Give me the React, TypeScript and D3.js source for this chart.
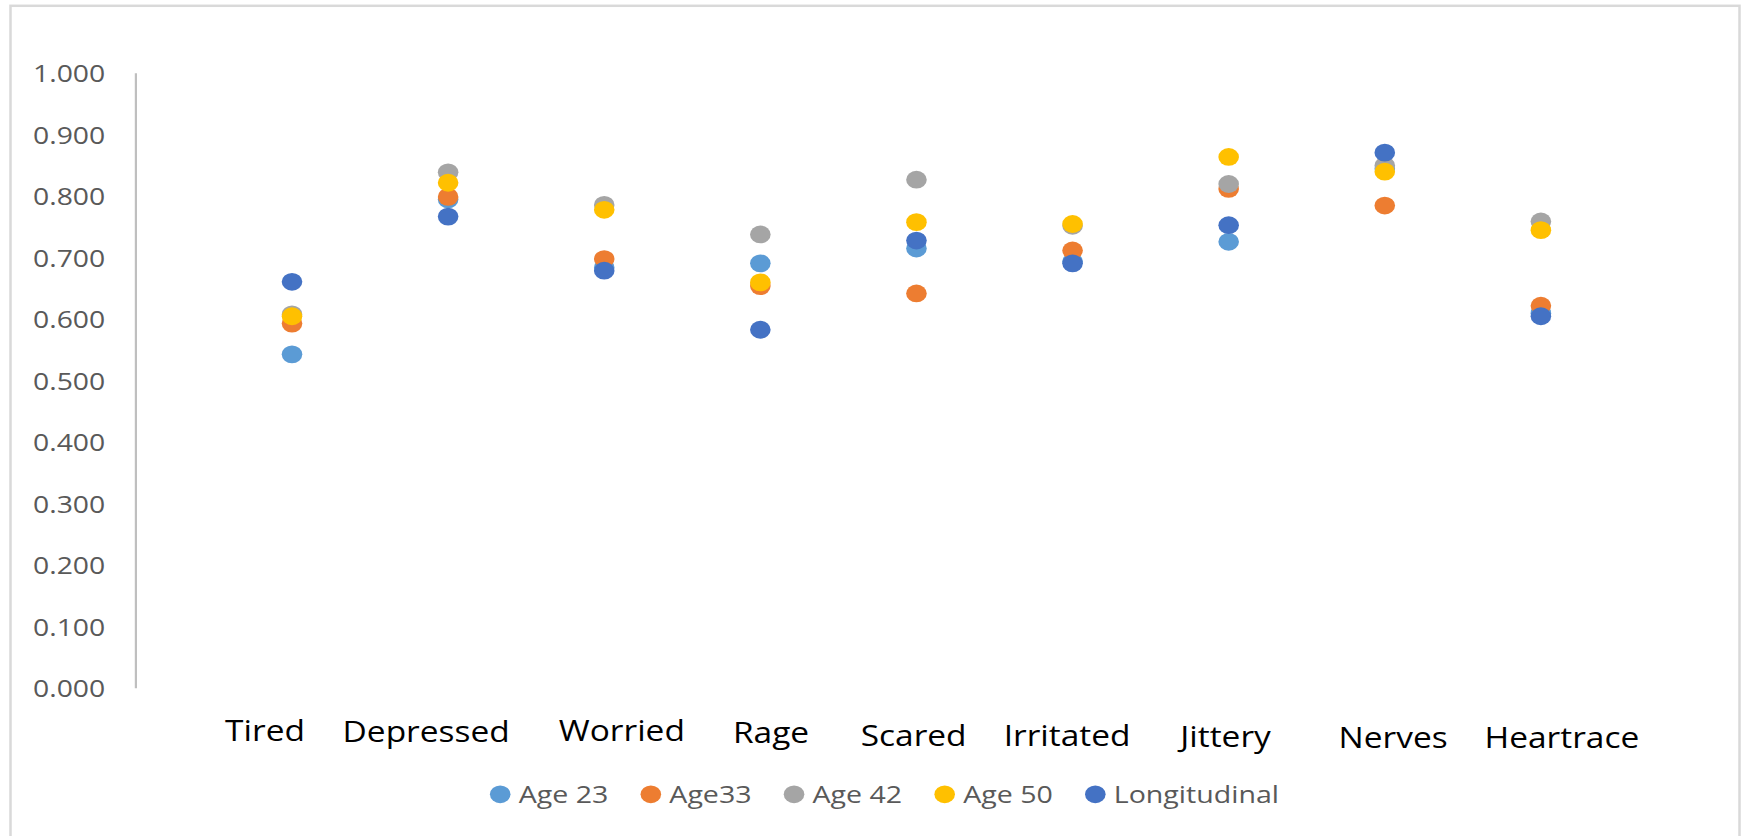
import React, { useEffect, useRef } from 'react';
import * as d3 from 'd3';

const categories = ['Tired', 'Depressed', 'Worried', 'Rage', 'Scared', 'Irritated', 'Jittery', 'Nerves', 'Heartrace'];
const age23 = [0.543, 0.795, 0.684, 0.691, 0.715, 0.694, 0.726, 0.845, 0.610];
const age33 = [0.593, 0.799, 0.698, 0.654, 0.642, 0.712, 0.812, 0.785, 0.622];
const age42 = [0.608, 0.839, 0.786, 0.738, 0.827, 0.752, 0.820, 0.850, 0.759];
const age50 = [0.605, 0.822, 0.778, 0.660, 0.758, 0.755, 0.864, 0.840, 0.745];
const longitudinal = [0.661, 0.767, 0.679, 0.583, 0.728, 0.691, 0.753, 0.871, 0.605];
const seriesNames = ['Age 23', 'Age33', 'Age 42', 'Age 50', 'Longitudinal'];
const yTickValues = [0, 0.1, 0.2, 0.3, 0.4, 0.5, 0.6, 0.7, 0.8, 0.9, 1.0];

// layout-only constants
const seriesColors = ['#5b9bd5', '#ed7d31', '#a5a5a5', '#ffc000', '#4472c4'];
const labelNudgeX = [-27, -22, 17.6, 10.7, -2.8, -5.5, -3.1, 8.3, 21];
const labelBaseline = [52.4, 53.4, 52.7, 55, 57.7, 57.7, 58.4, 60, 60];

const W = 1745;
const H = 836;
const SX = 1.17; // horizontal stretch of the original picture
const FONT = "'Open Sans', 'Noto Sans', sans-serif";

export default function App() {
  const ref = useRef<SVGSVGElement | null>(null);

  useEffect(() => {
    const svg = d3.select(ref.current);
    svg.selectAll('*').remove();

    const x = d3.scaleLinear().domain([0, 10]).range([135.9, 1697]);
    const y = d3.scaleLinear().domain([0, 1]).range([688.3, 73.3]);

    svg.append('rect').attr('x', 0).attr('y', 0).attr('width', W).attr('height', H).attr('fill', '#ffffff');
    svg.append('rect')
      .attr('x', 10.5).attr('y', 5.8).attr('width', 1729).attr('height', 900)
      .attr('fill', 'none').attr('stroke', '#d9d9d9').attr('stroke-width', 2.5);

    // y axis line
    svg.append('line')
      .attr('x1', x(0)).attr('x2', x(0)).attr('y1', y(1)).attr('y2', y(0))
      .attr('stroke', '#bfbfbf').attr('stroke-width', 2.2);

    // y tick labels
    const yt = svg.append('g');
    yTickValues.forEach((v) => {
      yt.append('text')
        .attr('transform', `translate(105.2,${y(v)}) scale(${SX},1)`)
        .attr('text-anchor', 'end')
        .attr('dy', '0.36em')
        .attr('font-family', FONT)
        .attr('font-size', 24.2)
        .attr('fill', '#595959')
        .text(d3.format('.3f')(v));
    });

    // points
    const all = [age23, age33, age42, age50, longitudinal];
    all.forEach((series, si) => {
      svg.append('g')
        .selectAll('ellipse')
        .data(series)
        .enter()
        .append('ellipse')
        .attr('cx', (_d, i) => x(i + 1))
        .attr('cy', (d) => y(d))
        .attr('rx', 10.3)
        .attr('ry', 8.9)
        .attr('fill', seriesColors[si]);
    });

    // category labels
    categories.forEach((c, i) => {
      svg.append('text')
        .attr('transform', `translate(${x(i + 1) + labelNudgeX[i]},${y(0) + labelBaseline[i]}) scale(${SX},1)`)
        .attr('text-anchor', 'middle')
        .attr('font-family', FONT)
        .attr('font-size', 28.6)
        .attr('fill', '#000000')
        .text(c);
    });

    // legend
    const lg = svg.append('g');
    let cx = 500.2;
    const ly = 794.3;
    seriesNames.forEach((n, i) => {
      lg.append('ellipse').attr('cx', cx).attr('cy', ly).attr('rx', 10.3).attr('ry', 8.9).attr('fill', seriesColors[i]);
      const t = lg.append('text')
        .attr('transform', `translate(${cx + 18.5},${ly}) scale(${SX},1)`)
        .attr('dy', '0.34em')
        .attr('font-family', FONT)
        .attr('font-size', 24.4)
        .attr('fill', '#595959')
        .text(n);
      const w = (t.node() as SVGTextElement).getComputedTextLength() * SX;
      cx = cx + 18.5 + w + 42.5;
    });
  }, []);

  return (
    <svg
      ref={ref}
      width={W}
      height={H}
      style={{ position: 'absolute', left: 0, top: 0, display: 'block' }}
    />
  );
}
